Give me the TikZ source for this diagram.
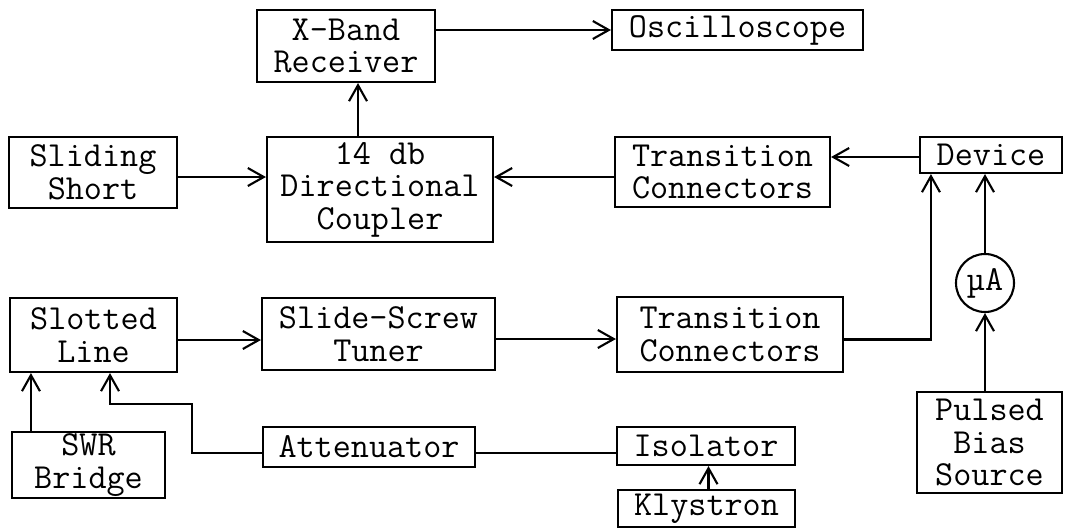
\documentclass[tikz,border=0pt]{standalone}
\usepackage{fontspec}
\usetikzlibrary{arrows.meta}

\begin{document}
\begin{tikzpicture}[>={Straight Barb[length=3.2mm,width=3.6mm]},line width=1.2pt,
  font=\ttfamily\fontsize{20}{18.5}\selectfont,
  blk/.style={draw,rectangle,align=center,inner sep=0pt}]
 \useasboundingbox (0,0) rectangle (21.3,10.58);
 % top row
 \node[blk,minimum width=3.56cm,minimum height=1.44cm] (recv) at (6.92,9.66) {X-Band\\Receiver};
 \node[blk,minimum width=5.02cm,minimum height=0.80cm] (osc) at (14.75,9.98) {Oscilloscope};
 % second row
 \node[blk,minimum width=3.36cm,minimum height=1.42cm] (short) at (1.86,7.13) {Sliding\\Short};
 \node[blk,minimum width=4.52cm,minimum height=2.10cm] (coupler) at (7.60,6.79) {14 db\\Directional\\Coupler};
 \node[blk,minimum width=4.30cm,minimum height=1.40cm] (tcA) at (14.45,7.14) {Transition\\Connectors};
 \node[blk,minimum width=2.84cm,minimum height=0.72cm] (device) at (19.82,7.48) {Device};
 % third row
 \node[blk,minimum width=3.34cm,minimum height=1.48cm] (slotted) at (1.87,3.88) {Slotted\\Line};
 \node[blk,minimum width=4.66cm,minimum height=1.44cm] (tuner) at (7.57,3.90) {Slide-Screw\\Tuner};
 \node[blk,minimum width=4.52cm,minimum height=1.50cm] (tcB) at (14.60,3.89) {Transition\\Connectors};
 \node[draw,circle,minimum size=1.16cm,inner sep=0pt] (meter) at (19.70,4.92) {µA};
 % bottom rows
 \node[blk,minimum width=3.06cm,minimum height=1.32cm] (swr) at (1.77,1.28) {SWR\\Bridge};
 \node[blk,minimum width=4.24cm,minimum height=0.80cm] (atten) at (7.38,1.64) {Attenuator};
 \node[blk,minimum width=3.56cm,minimum height=0.76cm] (iso) at (14.12,1.66) {Isolator};
 \node[blk,minimum width=3.54cm,minimum height=0.74cm] (kly) at (14.13,0.41) {Klystron};
 \node[blk,minimum width=2.90cm,minimum height=2.02cm] (bias) at (19.79,1.73) {Pulsed\\Bias\\Source};
 % receiver side
 \draw[->] (recv.east |- osc.west) -- (osc.west);
 \draw[->] ([xshift=-0.44cm]coupler.north) -- ([xshift=-0.44cm]coupler.north |- recv.south);
 \draw[->] ([yshift=-0.09cm]short.east) -- ([yshift=-0.09cm]short.east -| coupler.west);
 \draw[->] ([yshift=-0.1cm]tcA.west) -- ([yshift=-0.1cm]tcA.west -| coupler.east);
 \draw[->] ([yshift=-0.04cm]device.west) -- ([yshift=-0.04cm]device.west -| tcA.east);
 % source side
 \draw[->] ([yshift=-0.1cm]slotted.east) -- ([yshift=-0.1cm]slotted.east -| tuner.west);
 \draw[->] ([yshift=-0.1cm]tuner.east) -- ([yshift=-0.1cm]tuner.east -| tcB.west);
 \draw[->] ([yshift=-0.1cm]tcB.east) -| ([xshift=0.24cm]device.south west);
 \draw[->] (bias.north -| meter) -- (meter.south);
 \draw[->] (meter.north) -- (meter.north |- device.south);
 \draw[->] ([xshift=0.04cm]kly.north) -- ([xshift=0.04cm]kly.north |- iso.south);
 \draw ([yshift=-0.12cm]atten.east) -- ([yshift=-0.12cm]atten.east -| iso.west);
 \draw[->] ([yshift=-0.12cm]atten.west) -| ++(-1.4,0.98) -| ([xshift=0.33cm]slotted.south);
 \draw[->] ([xshift=0.4cm]swr.north west) -- ([xshift=0.4cm]swr.north west |- slotted.south);
\end{tikzpicture}
\end{document}
